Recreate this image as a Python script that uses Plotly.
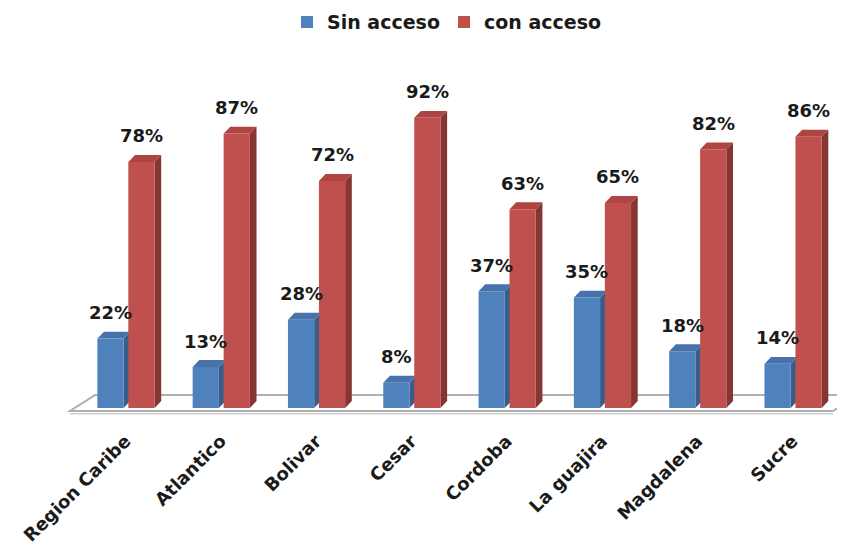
import plotly.graph_objects as go

categories = ["Region Caribe", "Atlantico", "Bolivar", "Cesar", "Cordoba", "La guajira", "Magdalena", "Sucre"]
sin_acceso = [22, 13, 28, 8, 37, 35, 18, 14]
con_acceso = [78, 87, 72, 92, 63, 65, 82, 86]

BLUE, BLUE_SIDE, BLUE_TOP = "#4F81BD", "#385D8A", "#4773AA"
RED, RED_SIDE, RED_TOP = "#C0504D", "#853532", "#AE4542"
FONT = "DejaVu Sans"
TXT = "#1a1a1a"

xs = list(range(len(categories)))
W = 0.275
OFF_B, OFF_R = -0.295, 0.03
DX, DY = 0.07, 2.2  # depth in data units

fig = go.Figure()
fig.add_trace(go.Bar(x=xs, y=sin_acceso, name="Sin acceso", width=W, offset=OFF_B,
                     marker=dict(color=BLUE, line=dict(width=0))))
fig.add_trace(go.Bar(x=xs, y=con_acceso, name="con acceso", width=W, offset=OFF_R,
                     marker=dict(color=RED, line=dict(width=0))))

shapes = []
# floor
fl, fr, bl, br = -0.582, 7.424, -0.32, 7.69
yf, yb = -0.95, 4.1
shapes.append(dict(type="path", xref="x", yref="y", layer="below",
                   path=f"M{fl},{yf} L{fr},{yf} L{br},{yb} L{bl},{yb} Z",
                   fillcolor="white", line=dict(color="#B0B0B0", width=2)))
shapes.append(dict(type="line", xref="x", yref="y", layer="below",
                   x0=fl, x1=fr, y0=yf - 0.9, y1=yf - 0.9,
                   line=dict(color="#D0D0D0", width=1.5)))

annotations = []
for vals, off, side, top in ((sin_acceso, OFF_B, BLUE_SIDE, BLUE_TOP),
                             (con_acceso, OFF_R, RED_SIDE, RED_TOP)):
    for i, v in zip(xs, vals):
        xl = i + off
        xr = xl + W
        shapes.append(dict(type="path", xref="x", yref="y", layer="below",
                           path=f"M{xr},0 L{xr},{v} L{xr+DX},{v+DY} L{xr+DX},{DY} Z",
                           fillcolor=side, line=dict(width=0)))
        shapes.append(dict(type="path", xref="x", yref="y", layer="below",
                           path=f"M{xl},{v} L{xr},{v} L{xr+DX},{v+DY} L{xl+DX},{v+DY} Z",
                           fillcolor=top, line=dict(width=0)))
        annotations.append(dict(x=xl + W / 2, y=v, xref="x", yref="y",
                                text=f"{v}%", showarrow=False, yanchor="middle",
                                yshift=26, xshift=0,
                                font=dict(family=FONT, size=18, color=TXT, weight="bold")))

fig.update_layout(
    width=845, height=545,
    margin=dict(l=52, r=8, t=52, b=135, autoexpand=False),
    paper_bgcolor="white", plot_bgcolor="white",
    barmode="overlay",
    shapes=shapes, annotations=annotations,
    showlegend=True,
    legend=dict(orientation="h", xref="container", yref="container",
                x=0.516, xanchor="center", y=0.974, yanchor="middle",
                font=dict(family=FONT, size=19, color=TXT, weight="bold"),
                itemwidth=30, entrywidth=112, traceorder="normal"),
    xaxis=dict(range=[-0.687, 7.55], tickmode="array", tickvals=xs, ticktext=categories,
               tickangle=-45, showgrid=False, zeroline=False, showline=False, ticks="",
               ticklabelstandoff=8, automargin=False,
               tickfont=dict(family=FONT, size=18, color=TXT, weight="bold")),
    yaxis=dict(range=[-3.17, 110.33], visible=False, showgrid=False, zeroline=False,
               automargin=False),
)

fig.write_html("out.html")
